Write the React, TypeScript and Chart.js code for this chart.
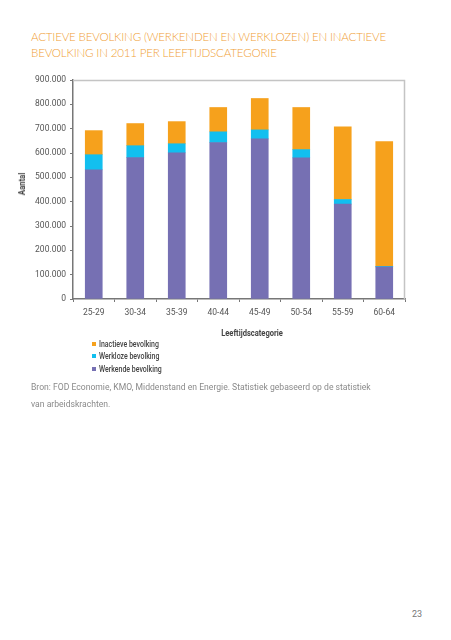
import React, { useEffect, useRef } from "react";
import { Chart, registerables } from "chart.js";

Chart.register(...registerables);

const categories = ["25-29", "30-34", "35-39", "40-44", "45-49", "50-54", "55-59", "60-64"];
const werkende = [531000, 581000, 601000, 643000, 658000, 580000, 390000, 132000];
const werkloze = [62000, 49000, 37000, 44000, 37000, 34000, 19000, 2000];
const inactieve = [99000, 91000, 91000, 100000, 129000, 173000, 299000, 513000];
const seriesNames = ["Werkende bevolking", "Werkloze bevolking", "Inactieve bevolking"];
const seriesColors = ["#7670B3", "#12BFEF", "#F6A11C"];
const yMax = 900000;
const yStep = 100000;

const fmt = (v: number) => String(v).replace(/\B(?=(\d{3})+(?!\d))/g, ".");

const framePlugin = {
  id: "frame",
  beforeDatasetsDraw(chart: any) {
    const { ctx, chartArea } = chart;
    ctx.save();
    ctx.strokeStyle = "#c4c4c4";
    ctx.lineWidth = 1.5;
    ctx.beginPath();
    ctx.moveTo(chartArea.left, chartArea.top + 0.5);
    ctx.lineTo(chartArea.right - 0.5, chartArea.top + 0.5);
    ctx.lineTo(chartArea.right - 0.5, chartArea.bottom);
    ctx.stroke();
    ctx.restore();
  },
};

export default function App() {
  const ref = useRef<HTMLCanvasElement | null>(null);

  useEffect(() => {
    if (!ref.current) return;
    const tickFont = { family: "Roboto", size: 8.5 };
    const chart = new Chart(ref.current, {
      type: "bar",
      data: {
        labels: categories,
        datasets: [
          { label: seriesNames[0], data: werkende, backgroundColor: seriesColors[0] },
          { label: seriesNames[1], data: werkloze, backgroundColor: seriesColors[1] },
          { label: seriesNames[2], data: inactieve, backgroundColor: seriesColors[2] },
        ],
      },
      options: {
        animation: false,
        responsive: false,
        maintainAspectRatio: false,
        layout: { padding: { top: 80, right: 46, bottom: 0, left: 0 } },
        plugins: { legend: { display: false }, tooltip: { enabled: false } },
        datasets: { bar: { barThickness: 17 } },
        scales: {
          x: {
            stacked: true,
            grid: {
              display: true,
              drawOnChartArea: false,
              drawTicks: true,
              tickLength: 3,
              color: "#777",
              offset: true,
            },
            border: { display: true, color: "#777", width: 1.5 },
            ticks: { color: "#555", font: tickFont, padding: 6, maxRotation: 0 },
            afterFit: (s: any) => {
              s.height = 30;
            },
          },
          y: {
            stacked: true,
            min: 0,
            max: yMax,
            grid: {
              display: true,
              drawOnChartArea: false,
              drawTicks: true,
              tickLength: 3,
              color: "#777",
            },
            border: { display: true, color: "#777", width: 1.5 },
            ticks: {
              stepSize: yStep,
              color: "#555",
              font: tickFont,
              padding: 4,
              callback: (v: any) => fmt(Number(v)),
            },
            afterFit: (s: any) => {
              s.width = 73;
            },
          },
        },
      },
      plugins: [framePlugin],
    });
    return () => chart.destroy();
  }, []);

  const legendItems = [2, 1, 0];

  return (
    <div style={{ position: "absolute", left: 0, top: 0, width: 451, height: 640, background: "#fff" }}>
      <div
        style={{
          position: "absolute",
          left: 31,
          top: 29,
          width: 400,
          fontFamily: "Lato",
          fontWeight: 300,
          fontSize: 11.6,
          letterSpacing: -0.2,
          lineHeight: "16.4px",
          color: "#F0A035",
          whiteSpace: "nowrap",
        }}
      >
        ACTIEVE BEVOLKING (WERKENDEN EN WERKLOZEN) EN INACTIEVE
        <br />
        BEVOLKING IN 2011 PER LEEFTIJDSCATEGORIE
      </div>
      <canvas ref={ref} width={451} height={329} style={{ position: "absolute", left: 0, top: 0, width: 451, height: 329 }} />
      <div
        style={{
          position: "absolute",
          left: 22,
          top: 184,
          transform: "translate(-50%, -50%) rotate(-90deg) scaleX(0.88)",
          fontFamily: "Roboto",
          fontWeight: 700,
          fontSize: 8.8,
          color: "#444",
          whiteSpace: "nowrap",
        }}
      >
        Aantal
      </div>
      <div
        style={{
          position: "absolute",
          left: 252,
          top: 333,
          transform: "translate(-50%, -50%) scaleX(0.84)",
          fontFamily: "Roboto",
          fontWeight: 700,
          fontSize: 9,
          color: "#444",
          whiteSpace: "nowrap",
        }}
      >
        Leeftijdscategorie
      </div>
      {legendItems.map((i, k) => (
        <div
          key={i}
          style={{
            position: "absolute",
            left: 92,
            top: 337.5 + k * 12.5,
            height: 12,
            display: "flex",
            alignItems: "center",
            whiteSpace: "nowrap",
          }}
        >
          <span style={{ display: "inline-block", width: 4, height: 4, background: seriesColors[i], marginRight: 3 }} />
          <span
            style={{
              display: "inline-block",
              fontFamily: "Roboto",
              fontWeight: 500,
              fontSize: 8.5,
              color: "#444",
              transform: "scaleX(0.82)",
              transformOrigin: "left center",
            }}
          >
            {seriesNames[i]}
          </span>
        </div>
      ))}
      <div
        style={{
          position: "absolute",
          left: 31,
          top: 379,
          fontFamily: "Roboto",
          fontSize: 8.6,
          lineHeight: "17px",
          color: "#8a8a8a",
          whiteSpace: "nowrap",
        }}
      >
        Bron: FOD Economie, KMO, Middenstand en Energie. Statistiek gebaseerd op de statistiek
        <br />
        van arbeidskrachten.
      </div>
      <div
        style={{
          position: "absolute",
          left: 412,
          top: 609,
          fontFamily: "Roboto",
          fontSize: 9,
          color: "#777",
        }}
      >
        23
      </div>
    </div>
  );
}
